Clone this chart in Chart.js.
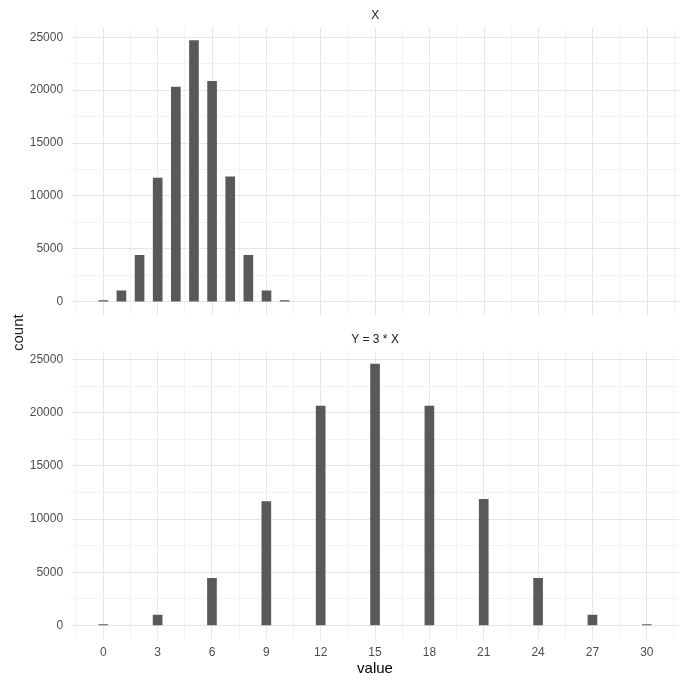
<!DOCTYPE html>
<html>
<head>
<meta charset="utf-8">
<script src="https://cdn.jsdelivr.net/npm/chart.js@4/dist/chart.umd.min.js"></script>
<style>
  body { margin: 0; background: #fff; }
  #wrap { position: relative; width: 681px; height: 682px; }
  canvas { position: absolute; left: 0; }
  #ylab {
    position: absolute; left: 9px; top: 313px; height: 40px; line-height: 16px;
    writing-mode: vertical-rl; transform: rotate(180deg); text-align: center;
    font: normal 15px "Liberation Sans", Arial, sans-serif; color: #222; white-space: nowrap;
  }
</style>
</head>
<body>
<div id="wrap">
  <canvas id="topPanel" width="681" height="330" style="top:0"></canvas>
  <canvas id="bottomPanel" width="681" height="352" style="top:330px"></canvas>
  <div id="ylab">count</div>
</div>
<script>
// X ~ Binomial(10, 0.5) counts, and the same for Y = 3 * X
const xValues = [0, 1, 2, 3, 4, 5, 6, 7, 8, 9, 10];
const xCounts = [100, 1030, 4380, 11680, 20300, 24680, 20830, 11800, 4380, 1030, 100];
const yValues = [0, 3, 6, 9, 12, 15, 18, 21, 24, 27, 30];
const yCounts = [100, 990, 4430, 11640, 20630, 24580, 20630, 11860, 4430, 990, 100];

const xTicks = [0, 3, 6, 9, 12, 15, 18, 21, 24, 27, 30];
const countTicks = [0, 5000, 10000, 15000, 20000, 25000];

const FONT = '"Liberation Sans", Arial, sans-serif';

// add ggplot style minor breaks between (and beyond) the major ones
const withMinor = (major, min, max) => {
  const step = major[1] - major[0];
  const out = [];
  for (let v = major[0] - step; v <= major[major.length - 1] + step; v += step / 2) {
    if (v >= min && v <= max) out.push(v);
  }
  return out;
};

const gridColor = (majors) => (c) =>
  majors.includes(c.tick && c.tick.value) ? "#e6e6e6" : "#f3f3f3";

const panelTitle = (text, y) => ({
  id: "panelTitle",
  afterDraw(chart) {
    const { ctx, chartArea } = chart;
    ctx.save();
    ctx.font = "12px " + FONT;
    ctx.fillStyle = "#1a1a1a";
    ctx.textAlign = "center";
    ctx.textBaseline = "middle";
    ctx.fillText(text, (chartArea.left + chartArea.right) / 2, y);
    ctx.restore();
  },
});

function makePanel(id, values, counts, title, showX) {
  const top = Math.max(...counts);
  const pad = top * 0.05;
  const xMin = -1.775, xMax = 31.775;

  return new Chart(document.getElementById(id).getContext("2d"), {
    type: "bar",
    data: {
      datasets: [
        {
          data: values.map((v, i) => ({ x: v, y: counts[i] })),
          backgroundColor: "#595959",
          barThickness: 9,
          borderWidth: 0,
        },
      ],
    },
    options: {
      responsive: false,
      animation: false,
      devicePixelRatio: 1,
      layout: {
        padding: showX
          ? { top: 20.9, left: 0, right: 1.5, bottom: 0 }
          : { top: 27.6, left: 0, right: 1.5, bottom: 11.4 },
      },
      plugins: { legend: { display: false }, tooltip: { enabled: false } },
      scales: {
        x: {
          type: "linear",
          offset: false,
          min: xMin,
          max: xMax,
          afterBuildTicks: (axis) => {
            axis.ticks = withMinor(xTicks, xMin, xMax).map((v) => ({ value: v }));
          },
          afterFit: (axis) => {
            axis.height = showX ? 43.4 : 0;
          },
          grid: { color: gridColor(xTicks), lineWidth: 1, drawTicks: false, offset: false },
          border: { display: false },
          ticks: {
            display: showX,
            autoSkip: false,
            maxRotation: 0,
            padding: 7,
            color: "#4d4d4d",
            font: { size: 12, family: FONT },
            callback: (v) => (xTicks.includes(v) ? String(v) : ""),
          },
          title: {
            display: showX,
            text: "value",
            color: "#000",
            font: { size: 15, family: FONT },
            padding: { top: 0, bottom: 4 },
          },
        },
        y: {
          min: -pad,
          max: top + pad,
          afterBuildTicks: (axis) => {
            axis.ticks = withMinor(countTicks, -pad, top + pad).map((v) => ({ value: v }));
          },
          afterFit: (axis) => {
            axis.width = 71.1;
          },
          grid: { color: gridColor(countTicks), lineWidth: 1, drawTicks: false },
          border: { display: false },
          ticks: {
            autoSkip: false,
            padding: 8,
            color: "#4d4d4d",
            font: { size: 12, family: FONT },
            callback: (v) => (countTicks.includes(v) ? String(v) : ""),
          },
        },
      },
    },
    plugins: [panelTitle(title, showX ? 9.3 : 15.5)],
  });
}

makePanel("topPanel", xValues, xCounts, "X", false);
makePanel("bottomPanel", yValues, yCounts, "Y = 3 * X", true);
</script>
</body>
</html>
